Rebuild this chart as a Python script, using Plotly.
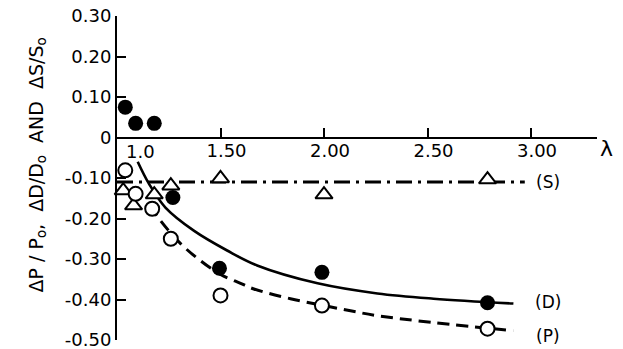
import plotly.graph_objects as go

# ---- data ----
lam_D = [1.04, 1.09, 1.18, 1.27, 1.495, 1.99, 2.79]
val_D = [0.075, 0.035, 0.035, -0.148, -0.323, -0.333, -0.408]

lam_P = [1.04, 1.09, 1.17, 1.26, 1.50, 1.99, 2.79]
val_P = [-0.081, -0.139, -0.176, -0.250, -0.390, -0.415, -0.472]

lam_S = [1.03, 1.08, 1.18, 1.26, 1.50, 2.00, 2.79]
val_S = [-0.131, -0.168, -0.141, -0.119, -0.101, -0.141, -0.104]

# hand-drawn fit curves
curve_D_lam = [1.10, 1.154, 1.234, 1.371, 1.532, 1.677, 1.969, 2.258, 2.529, 2.915]
curve_D_val = [-0.060, -0.114, -0.173, -0.230, -0.279, -0.316, -0.360, -0.385, -0.398, -0.410]

curve_P_lam = [1.16, 1.21, 1.307, 1.403, 1.50, 1.597, 1.661, 1.838, 1.99, 2.128, 2.258, 2.529, 2.915]
curve_P_val = [-0.168, -0.205, -0.262, -0.304, -0.338, -0.360, -0.374, -0.398, -0.414, -0.428, -0.440, -0.457, -0.477]

curve_S_lam = [1.0, 2.97]
curve_S_val = [-0.11, -0.11]

x_tickvals = [1.5, 2.0, 2.5, 3.0]
x_ticktext = ["1.50", "2.00", "2.50", "3.00"]
y_tickvals = [0.3, 0.2, 0.1, 0.0, -0.1, -0.2, -0.3, -0.4, -0.5]
y_ticktext = ["0.30", "0.20", "0.10", "0", "-0.10", "-0.20", "-0.30", "-0.40", "-0.50"]

FONT = "DejaVu Sans"

# page offset compensation (body margin of the html page)
OFF = 8
W, H = 623, 349
L = 117 - OFF
T = 16 - OFF
PW = 506
PH = 324
R = W - L - PW
B = H - T - PH


def px_x(px):
    return (px - OFF - L) / PW


def px_y(py):
    return 1 - (py - OFF - T) / PH


fig = go.Figure()

fig.add_trace(go.Scatter(x=curve_S_lam, y=curve_S_val, mode="lines",
                         line=dict(color="black", width=3, dash="16px,6px,3px,6px"),
                         cliponaxis=False, hoverinfo="skip"))
fig.add_trace(go.Scatter(x=curve_D_lam, y=curve_D_val, mode="lines",
                         line=dict(color="black", width=2.6, shape="spline", smoothing=1),
                         cliponaxis=False, hoverinfo="skip"))
fig.add_trace(go.Scatter(x=curve_P_lam, y=curve_P_val, mode="lines",
                         line=dict(color="black", width=3, dash="12px,7px", shape="spline", smoothing=1),
                         cliponaxis=False, hoverinfo="skip"))

fig.add_trace(go.Scatter(x=lam_D, y=val_D, mode="markers",
                         marker=dict(symbol="circle", size=15, color="black"),
                         cliponaxis=False))
fig.add_trace(go.Scatter(x=lam_S, y=val_S, mode="markers",
                         marker=dict(symbol="triangle-up", size=15, color="white",
                                     line=dict(color="black", width=2)),
                         cliponaxis=False))
fig.add_trace(go.Scatter(x=lam_P, y=val_P, mode="markers",
                         marker=dict(symbol="circle", size=14, color="white",
                                     line=dict(color="black", width=2)),
                         cliponaxis=False))

fig.update_layout(
    width=W, height=H,
    margin=dict(l=L, r=R, t=T, b=B, autoexpand=False),
    paper_bgcolor="white", plot_bgcolor="white",
    showlegend=False,
    font=dict(family=FONT, color="black"),
    xaxis=dict(domain=[0, 480 / PW], range=[1.0, 1.0 + 480 / 207],
               anchor="free", position=0.625,
               showline=True, linewidth=2, linecolor="black",
               ticks="inside", ticklen=9, tickwidth=2, tickcolor="black",
               tickvals=x_tickvals, ticktext=x_ticktext,
               tickfont=dict(size=18, family=FONT), ticklabelshift=6,
               ticklabelstandoff=-3, ticklabeloverflow="allow",
               showgrid=False, zeroline=False, automargin=False),
    yaxis=dict(range=[-0.5, 0.3], domain=[0, 1],
               showline=True, linewidth=2, linecolor="black",
               ticks="inside", ticklen=9, tickwidth=2, tickcolor="black",
               tickvals=y_tickvals, ticktext=y_ticktext,
               tickfont=dict(size=18, family=FONT), ticklabeloverflow="allow",
               showgrid=False, zeroline=False, automargin=False),
)

ann = [
    dict(x=1.114, y=-0.035, xref="x", yref="y", text="1.0", showarrow=False,
         font=dict(size=18, family=FONT)),
    dict(x=px_x(615), y=-0.027, xref="paper", yref="y", text="λ", showarrow=False,
         font=dict(size=22, family=FONT)),
    dict(x=3.08, y=-0.109, xref="x", yref="y", text="(S)", showarrow=False,
         font=dict(size=17, family=FONT)),
    dict(x=3.08, y=-0.405, xref="x", yref="y", text="(D)", showarrow=False,
         font=dict(size=17, family=FONT)),
    dict(x=3.08, y=-0.489, xref="x", yref="y", text="(P)", showarrow=False,
         font=dict(size=17, family=FONT)),
    dict(x=px_x(22), y=px_y(165), xref="paper", yref="paper", textangle=-90,
         text="ΔP / P<sub>o</sub>,  ΔD/D<sub>o</sub>  AND  ΔS/S<sub>o</sub>", showarrow=False,
         font=dict(size=19, family=FONT)),
]
fig.update_layout(annotations=ann)

fig.write_html("out.html")
